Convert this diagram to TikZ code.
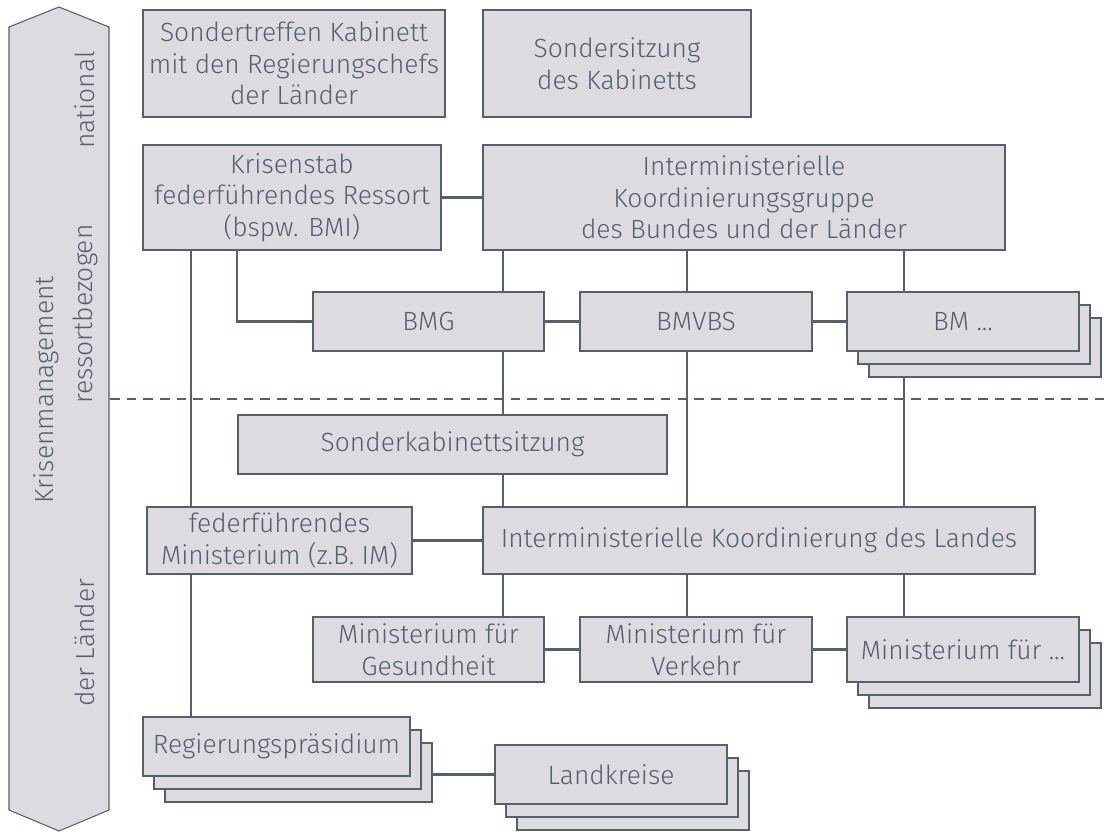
\documentclass[tikz,border=0pt]{standalone}
\usepackage{fontspec}
\setmainfont{Fira Sans}[UprightFont={* Light}]
\usepackage{tikz}
\usetikzlibrary{shadows,backgrounds}
\definecolor{slate}{HTML}{575E6C}
\definecolor{boxgray}{HTML}{DCDCE0}

\begin{document}
\begin{tikzpicture}
	[x=0.02cm,y=-0.02cm,
	 box/.style={draw=slate,fill=boxgray,text=slate,line width=0.8pt,align=center,inner sep=0pt,font=\fontsize{15}{18}\selectfont},
	 stack/.style={copy shadow={shadow xshift=0.44cm,shadow yshift=-0.52cm},copy shadow={shadow xshift=0.22cm,shadow yshift=-0.26cm}},
	 side/.style={text=slate,rotate=90,inner sep=0pt,font=\fontsize{15}{18}\selectfont}]
	\tikzstyle{edges} = [draw=slate,line width=1.2pt];
	
	\useasboundingbox (0,0) rectangle (1111,832);
	
	% left band
	\draw[slate,fill=boxgray,line width=0.6pt] (9,27) -- (59,7) -- (109,27) -- (109,810) -- (59,831) -- (9,810) -- cycle;
	\node[side] (national) at (85,100) {national};
	\node[side] (ressort) at (85,314) {ressortbezogen};
	\node[side] (krisen) at (46,390) {Krisenmanagement};
	\node[side] (laender) at (85,643) {der Länder};
	
	\draw[slate,line width=1.2pt,dash pattern=on 5.5pt off 4pt] (110,399) -- (1111,399);
	
	% columns
	\coordinate (c0) at (191,0);
	\coordinate (c4) at (237,0);
	\coordinate (c1) at (503,0);
	\coordinate (c2) at (687,0);
	\coordinate (c3) at (904,0);
	
	% bund
	\node[box,minimum width=6.04cm,minimum height=2.14cm] (sondertreffen) at (294,63.5) {Sondertreffen Kabinett\\mit den Regierungschefs\\der Länder};
	\node[box,minimum width=5.36cm,minimum height=2.14cm] (sondersitzung) at (617,63.5) {Sondersitzung\\des Kabinetts};
	\node[box,minimum width=5.96cm,minimum height=2.1cm] (krisenstab) at (292,197.5) {Krisenstab\\federführendes Ressort\\(bspw. BMI)};
	\node[box,minimum width=10.44cm,minimum height=2.1cm] (ikg) at (744,197.5) {Interministerielle\\Koordinierungsgruppe\\des Bundes und der Länder};
	\node[box,minimum width=4.62cm,minimum height=1.18cm] (bmg) at (428.5,321.5) {BMG};
	\node[box,minimum width=4.64cm,minimum height=1.18cm] (bmvbs) at (696,321.5) {BMVBS};
	\node[box,stack,minimum width=4.64cm,minimum height=1.18cm] (bmx) at (963,321.5) {BM ...};
	
	% laender
	\node[box,minimum width=8.58cm,minimum height=1.18cm] (sks) at (452.5,444.5) {Sonderkabinettsitzung};
	\node[box,minimum width=5.3cm,minimum height=1.34cm] (ffm) at (279.5,540.5) {federführendes\\Ministerium (z.B. IM)};
	\node[box,minimum width=11.04cm,minimum height=1.34cm] (ikl) at (759,540.5) {Interministerielle Koordinierung des Landes};
	\node[box,minimum width=4.62cm,minimum height=1.3cm] (mg) at (428.5,649.5) {Ministerium für\\Gesundheit};
	\node[box,minimum width=4.64cm,minimum height=1.3cm] (mv) at (696,649.5) {Ministerium für\\Verkehr};
	\node[box,stack,minimum width=4.64cm,minimum height=1.3cm] (mx) at (963,649.5) {Ministerium für ...};
	\node[box,stack,minimum width=5.34cm,minimum height=1.18cm] (rp) at (276.5,746.5) {Regierungspräsidium};
	\node[box,stack,minimum width=4.64cm,minimum height=1.18cm] (lk) at (611,774.5) {Landkreise};
	
	\begin{scope}[on background layer]
	\draw[edges] (krisenstab) -- (ikg);
	\draw[edges] (krisenstab.south -| c0) -- (rp.north -| c0);
	\draw[edges] (krisenstab.south -| c4) |- (bmg.west);
	\draw[edges] (bmg) -- (bmvbs);
	\draw[edges] (bmvbs) -- (bmx);
	\draw[edges] (ikg.south -| c1) -- (ikl.north -| c1);
	\draw[edges] (ikg.south -| c2) -- (ikl.north -| c2);
	\draw[edges] (ikg.south -| c3) -- (ikl.north -| c3);
	\draw[edges] (ffm) -- (ikl);
	\draw[edges] (ikl.south -| c1) -- (mg.north -| c1);
	\draw[edges] (ikl.south -| c2) -- (mv.north -| c2);
	\draw[edges] (ikl.south -| c3) -- (mx.north -| c3);
	\draw[edges] (mg) -- (mv);
	\draw[edges] (mv) -- (mx);
	\draw[edges] (lk.west) -- (lk.west -| rp.east);
	\end{scope}
\end{tikzpicture}
\end{document}
